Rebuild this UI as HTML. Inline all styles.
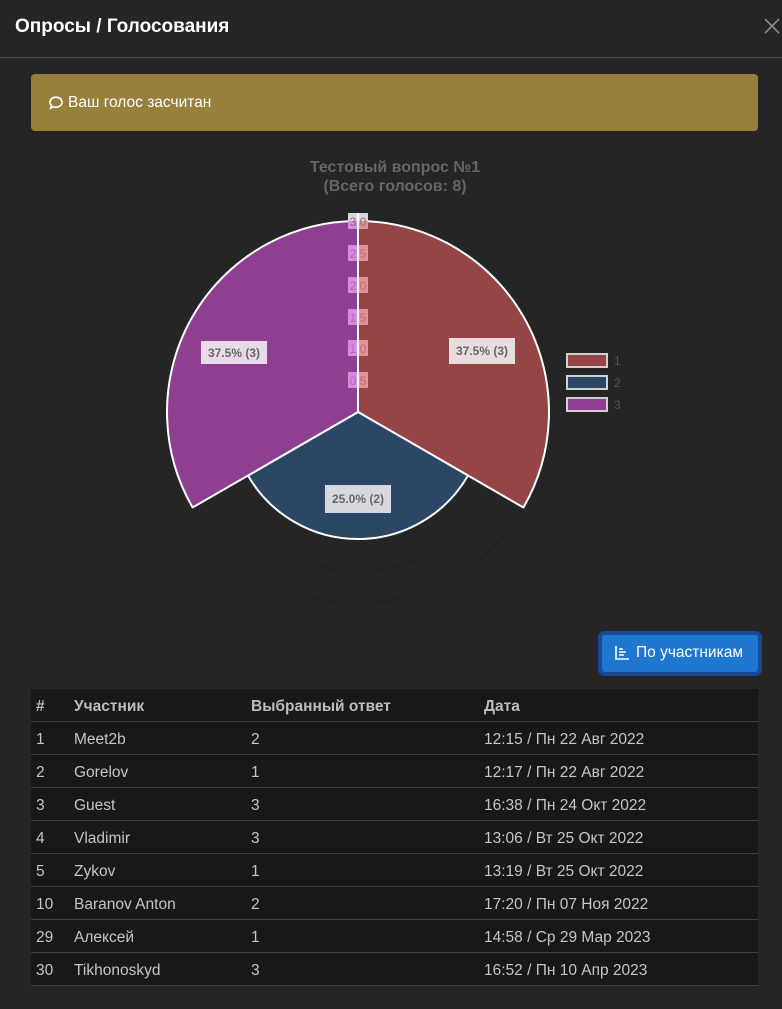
<!DOCTYPE html>
<html><head><meta charset="utf-8">
<style>
html,body{margin:0;padding:0;}
body{width:782px;height:1009px;background:#252525;position:relative;overflow:hidden;font-family:"Liberation Sans","Noto Sans CJK SC",sans-serif;}
.abs{position:absolute;}
#hdr{left:15px;top:15px;font-size:19px;font-weight:bold;color:#fff;line-height:24px;}
#hline{left:0;top:57px;width:782px;height:1px;background:#4b4e54;}
#alert{left:31px;top:74px;width:727px;height:57px;background:#977f3c;border-radius:4px;}
#alert span{position:absolute;left:37px;top:19px;font-size:15.5px;color:#fff;line-height:20px;}
#btn{left:598px;top:631px;width:156px;height:37px;background:#1f77d0;border:4px solid #1a4a96;border-radius:7px;}
#btn span{position:absolute;left:34px;top:8px;font-size:15.5px;color:#fff;line-height:20px;}
#tbl{left:31px;top:689px;width:727px;height:297px;background:#181818;}
.row{position:absolute;left:0;width:727px;height:33px;border-bottom:1px solid #3d4147;font-size:15.5px;color:#c6c6c6;}
.row div{position:absolute;top:8px;line-height:19px;}
.c1{left:5px}.c2{left:43px}.c3{left:220px}.c4{left:453px}
.hd{font-weight:bold;color:#bdbdbd;}
</style></head><body>
<div id="hdr" class="abs">Опросы / Голосования</div>
<svg class="abs" style="left:764px;top:18px" width="16" height="16"><path d="M1 1L15 15M15 1L1 15" stroke="#8a8a8a" stroke-width="1.6"/></svg>
<div id="hline" class="abs"></div>
<div id="alert" class="abs">
<svg style="position:absolute;left:17px;top:21px" width="16" height="16" viewBox="0 0 16 16"><path d="M8 2.2c3.3 0 6 2.2 6 5s-2.7 5-6 5c-.8 0-1.6-.1-2.3-.4L2.6 13.2l1-2.6C2.6 9.7 2 8.5 2 7.2c0-2.8 2.7-5 6-5z" fill="none" stroke="#fff" stroke-width="1.6"/></svg>
<span>Ваш голос засчитан</span></div>

<svg class="abs" style="left:0;top:0" width="782" height="1009">
<text x="395" y="172" text-anchor="middle" font-family="Liberation Sans, sans-serif" font-size="16" font-weight="bold" fill="#666">Тестовый вопрос №1</text>
<text x="395" y="191" text-anchor="middle" font-family="Liberation Sans, sans-serif" font-size="16" font-weight="bold" fill="#666">(Всего голосов: 8)</text>
<!-- grid circles -->
<circle cx="358" cy="412" r="159" fill="none" stroke="#202020" stroke-width="1"/>
<circle cx="358" cy="412" r="191" fill="none" stroke="#202020" stroke-width="1"/>
<!-- arcs -->
<path d="M358 412 L358 221 A191 191 0 0 1 523.4 507.5 Z" fill="#954545" stroke="#fff" stroke-width="2" stroke-linejoin="round"/>
<path d="M358 412 L468 475.5 A127 127 0 0 1 248 475.5 Z" fill="#2c4766" stroke="#fff" stroke-width="2" stroke-linejoin="round"/>
<path d="M358 412 L192.6 507.5 A191 191 0 0 1 358 221 Z" fill="#8e3f8f" stroke="#fff" stroke-width="2" stroke-linejoin="round"/>
<!-- tick backdrops -->
<g font-family="Liberation Sans, sans-serif" font-size="12" text-anchor="middle">
<rect x="348" y="213" width="10" height="8" fill="#d8d8d8"/><rect x="358" y="213" width="10" height="8" fill="#d8d8d8"/>
<rect x="348" y="221" width="10" height="8" fill="#dc8adc"/><rect x="358" y="221" width="10" height="8" fill="#e6928f"/>
<text x="358" y="226" fill="#8a6a8a">3.0</text>
<rect x="348" y="245" width="10" height="16" fill="#dc8adc"/><rect x="358" y="245" width="10" height="16" fill="#e6928f"/>
<text x="358" y="258" fill="#b06aa0">2.5</text>
<rect x="348" y="277" width="10" height="16" fill="#dc8adc"/><rect x="358" y="277" width="10" height="16" fill="#e6928f"/>
<text x="358" y="290" fill="#b06aa0">2.0</text>
<rect x="348" y="309" width="10" height="16" fill="#dc8adc"/><rect x="358" y="309" width="10" height="16" fill="#e6928f"/>
<text x="358" y="322" fill="#b06aa0">1.5</text>
<rect x="348" y="340" width="10" height="16" fill="#dc8adc"/><rect x="358" y="340" width="10" height="16" fill="#e6928f"/>
<text x="358" y="353" fill="#b06aa0">1.0</text>
<rect x="348" y="372" width="10" height="16" fill="#dc8adc"/><rect x="358" y="372" width="10" height="16" fill="#e6928f"/>
<text x="358" y="385" fill="#b06aa0">0.5</text>
</g>
<line x1="358" y1="213" x2="358" y2="412" stroke="#fff" stroke-width="2"/>
<!-- value labels -->
<g font-family="Liberation Sans, sans-serif" font-size="12" font-weight="bold" text-anchor="middle" fill="#666">
<rect x="449" y="338" width="66" height="26" fill="#e8dcdc"/><text x="482" y="355">37.5% (3)</text>
<rect x="201" y="341" width="66" height="23" fill="#e9dae9"/><text x="234" y="357">37.5% (3)</text>
<rect x="325" y="485" width="66" height="28" fill="#d5d9df"/><text x="358" y="503">25.0% (2)</text>
</g>
<!-- legend -->
<g font-family="Liberation Sans, sans-serif" font-size="12" fill="#555">
<rect x="567" y="354" width="40" height="13" fill="#954545" stroke="#d0d0d0" stroke-width="2"/><text x="614" y="365">1</text>
<rect x="567" y="376" width="40" height="13" fill="#2c4766" stroke="#d0d0d0" stroke-width="2"/><text x="614" y="387">2</text>
<rect x="567" y="398" width="40" height="13" fill="#8e3f8f" stroke="#d0d0d0" stroke-width="2"/><text x="614" y="409">3</text>
</g>
</svg>

<div id="btn" class="abs">
<svg style="position:absolute;left:12px;top:10px" width="16" height="16" viewBox="0 0 16 16"><path d="M2 1v13h13" fill="none" stroke="#fff" stroke-width="1.6"/><path d="M5 4h4M5 7h7M5 10h5" stroke="#fff" stroke-width="1.6"/></svg>
<span>По участникам</span></div>

<div id="tbl" class="abs">
<div class="row hd" style="top:0;height:32px"><div class="c1">#</div><div class="c2">Участник</div><div class="c3">Выбранный ответ</div><div class="c4">Дата</div></div>
<div class="row" style="top:33px;height:32px"><div class="c1">1</div><div class="c2">Meet2b</div><div class="c3">2</div><div class="c4">12:15 / Пн 22 Авг 2022</div></div>
<div class="row" style="top:66px;height:32px"><div class="c1">2</div><div class="c2">Gorelov</div><div class="c3">1</div><div class="c4">12:17 / Пн 22 Авг 2022</div></div>
<div class="row" style="top:99px;height:32px"><div class="c1">3</div><div class="c2">Guest</div><div class="c3">3</div><div class="c4">16:38 / Пн 24 Окт 2022</div></div>
<div class="row" style="top:132px;height:32px"><div class="c1">4</div><div class="c2">Vladimir</div><div class="c3">3</div><div class="c4">13:06 / Вт 25 Окт 2022</div></div>
<div class="row" style="top:165px;height:32px"><div class="c1">5</div><div class="c2">Zykov</div><div class="c3">1</div><div class="c4">13:19 / Вт 25 Окт 2022</div></div>
<div class="row" style="top:198px;height:32px"><div class="c1">10</div><div class="c2">Baranov Anton</div><div class="c3">2</div><div class="c4">17:20 / Пн 07 Ноя 2022</div></div>
<div class="row" style="top:231px;height:32px"><div class="c1">29</div><div class="c2">Алексей</div><div class="c3">1</div><div class="c4">14:58 / Ср 29 Мар 2023</div></div>
<div class="row" style="top:264px;height:32px"><div class="c1">30</div><div class="c2">Tikhonoskyd</div><div class="c3">3</div><div class="c4">16:52 / Пн 10 Апр 2023</div></div>
</div>
</body></html>
